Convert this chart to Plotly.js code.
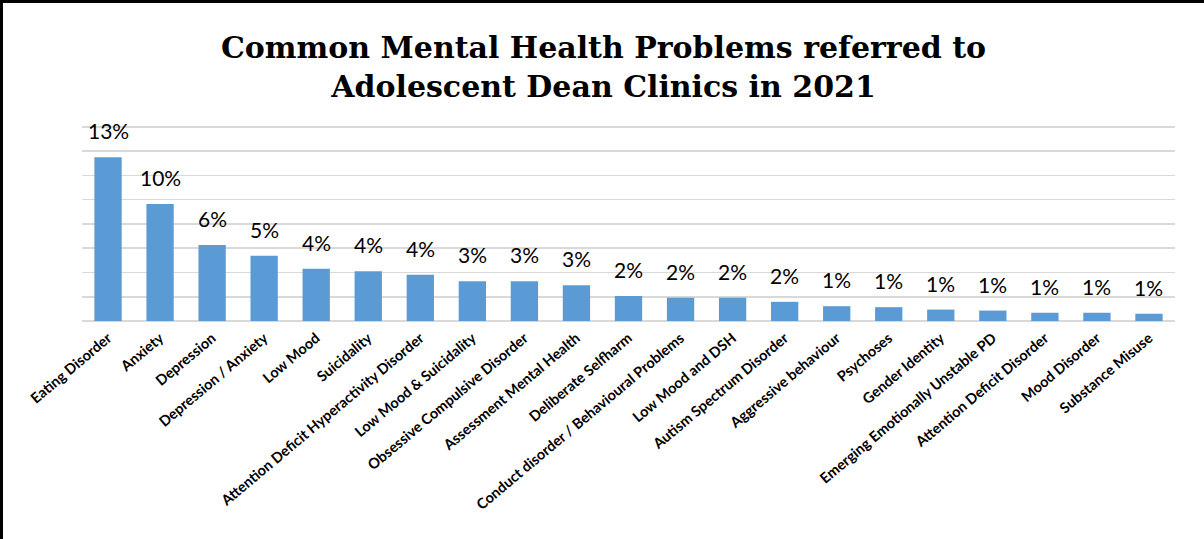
<!DOCTYPE html>
<html>
<head>
<meta charset="utf-8">
<script src="https://cdn.plot.ly/plotly-3.0.1.min.js"></script>
<style>
  html, body { margin: 0; padding: 0; background: #fff; }
  #frame { width: 1201px; height: 536px; border-left: 3px solid #000; border-top: 3px solid #000; }
  #chart { width: 1201px; height: 536px; }
</style>
</head>
<body>
<div id="frame"><div id="chart"></div></div>
<script>
const categories = [
  "Eating Disorder", "Anxiety", "Depression", "Depression / Anxiety", "Low Mood",
  "Suicidality", "Attention Deficit Hyperactivity Disorder", "Low Mood & Suicidality",
  "Obsessive Compulsive Disorder", "Assessment Mental Health", "Deliberate Selfharm",
  "Conduct disorder / Behavioural Problems", "Low Mood and DSH", "Autism Spectrum Disorder",
  "Aggressive behaviour", "Psychoses", "Gender Identity", "Emerging Emotionally Unstable PD",
  "Attention Deficit Disorder", "Mood Disorder", "Substance Misuse"
];
const values = [67.5, 48.2, 31.3, 26.9, 21.5, 20.5, 19.1, 16.4, 16.4, 14.7, 10.3,
                9.6, 9.6, 7.9, 6.1, 5.7, 4.7, 4.3, 3.4, 3.4, 3.0];
const labels = ["13%", "10%", "6%", "5%", "4%", "4%", "4%", "3%", "3%", "3%", "2%",
                "2%", "2%", "2%", "1%", "1%", "1%", "1%", "1%", "1%", "1%"];
const titleLines = ["Common Mental Health Problems referred to", "Adolescent Dean Clinics in 2021"];

const trace = {
  type: "bar",
  x: categories,
  y: values,
  marker: { color: "#5b9bd5", line: { width: 0 } },
  hoverinfo: "x+y"
};

const annotations = categories.map((c, i) => ({
  x: c, y: values[i], text: labels[i],
  xref: "x", yref: "y", showarrow: false,
  yanchor: "bottom", yshift: 12,
  font: { family: "Lato, 'Open Sans', sans-serif", size: 21, color: "#000" }
}));

const layout = {
  width: 1201, height: 536,
  paper_bgcolor: "#fff", plot_bgcolor: "#fff",
  margin: { l: 79, r: 29, t: 119, b: 218 },
  title: {
    text: titleLines.join("<br>"),
    font: { family: "'DejaVu Serif', serif", size: 30, color: "#000", weight: "bold" },
    x: 0.5, xanchor: "center", xref: "container",
    y: 0.897, yanchor: "middle", yref: "container"
  },
  bargap: 0.475,
  showlegend: false,
  xaxis: {
    tickangle: -40,
    ticklabelstandoff: 5,
    tickfont: { family: "Lato, 'Open Sans', sans-serif", size: 14.5, color: "#000", weight: "bold" },
    showline: false, ticks: "", showgrid: false
  },
  yaxis: {
    range: [0, 82], dtick: 10, tick0: 0,
    showticklabels: false, ticks: "",
    showgrid: true, gridcolor: "#d9d9d9", gridwidth: 1.6,
    zeroline: true, zerolinecolor: "#d9d9d9", zerolinewidth: 1.6,
    showline: false
  },
  annotations: annotations
};

Plotly.newPlot("chart", [trace], layout, { displayModeBar: false, staticPlot: true });
</script>
</body>
</html>
